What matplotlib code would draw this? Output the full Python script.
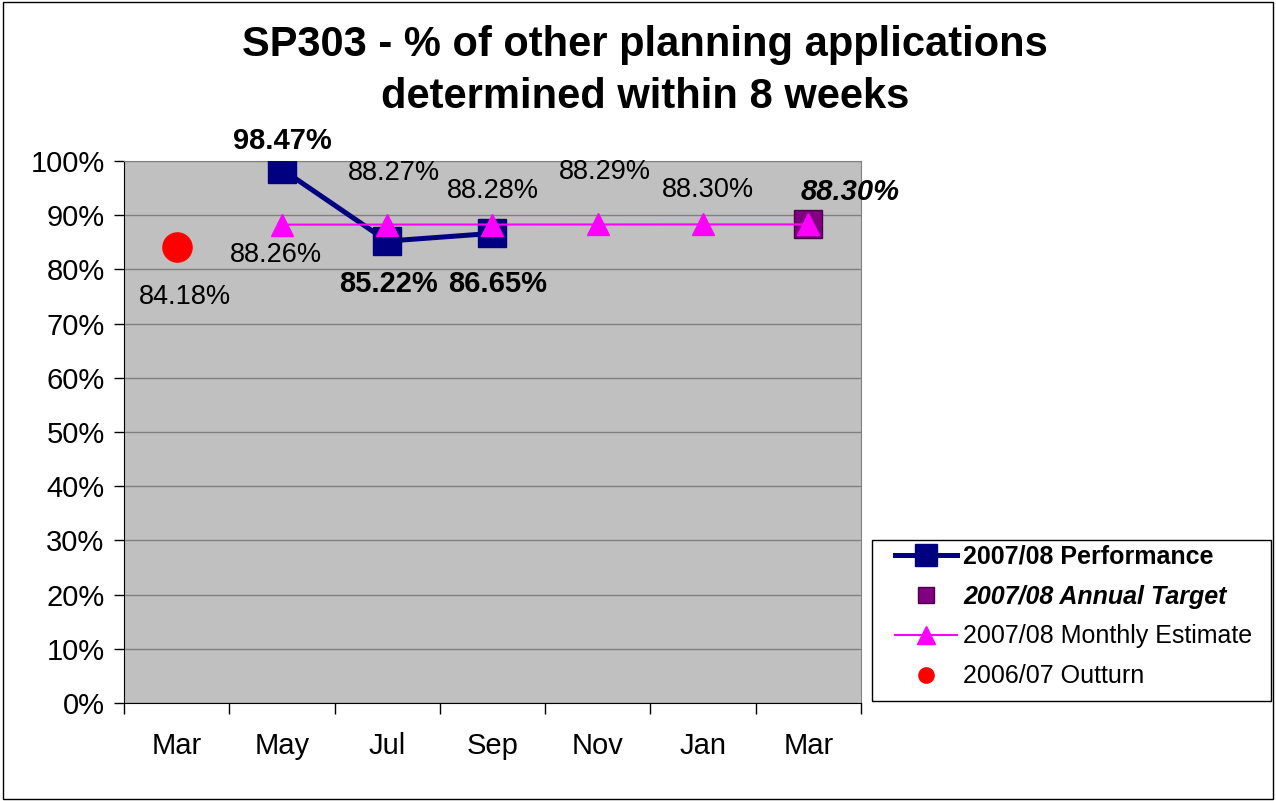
import numpy as np
import matplotlib.pyplot as plt
from matplotlib.lines import Line2D
from matplotlib.patches import Rectangle

plt.rcParams['font.family'] = ['Liberation Sans', 'DejaVu Sans']

months = ["Mar", "May", "Jul", "Sep", "Nov", "Jan", "Mar"]
perf_idx = [1, 2, 3]
perf_vals = [98.47, 85.22, 86.65]
est_idx = [1, 2, 3, 4, 5, 6]
est_vals = [88.26, 88.27, 88.28, 88.29, 88.30, 88.30]
target_idx = [6]
target_vals = [88.30]
outturn_idx = [0]
outturn_vals = [84.18]

# label offsets in pixels (dx, dy) for each series
perf_offsets = [(0, 28), (1, -43), (5, -51)]
est_offsets = [(-6, -30), (7, 52), (0, 34), (7, 52), (5, 34), None]
target_offsets = [(42, 32)]
outturn_offsets = [(8, -50)]

fig = plt.figure(figsize=(12.76, 8.01), dpi=100)
ax = fig.add_axes([124 / 1276, 1 - 703 / 801, (861 - 124) / 1276, (703 - 161) / 801])
ax.set_facecolor('#C0C0C0')

ax.plot(perf_idx, perf_vals, color='#000080', lw=3.6, marker='s', ms=20, zorder=3)
ax.plot(target_idx, target_vals, ls='none', marker='s', ms=20, color='#800080',
        mec='#4B004B', mew=1, zorder=4)
ax.plot(est_idx, est_vals, color='#FF00FF', lw=1.5, marker='^', ms=16, zorder=5)
ax.plot(outturn_idx, outturn_vals, ls='none', marker='o', ms=21, color='#FF0000', zorder=5)


def label(xs, ys, offs, size, **kw):
    for x, y, o in zip(xs, ys, offs):
        if o is None:
            continue
        ax.annotate(f"{y:.2f}%", (x, y), xytext=o, textcoords='offset pixels',
                    ha='center', va='center', fontsize=size, zorder=6, **kw)


label(perf_idx, perf_vals, perf_offsets, 21, fontweight='bold')
label(est_idx, est_vals, est_offsets, 19.5)
label(target_idx, target_vals, target_offsets, 21, fontweight='bold', fontstyle='italic',
      annotation_clip=False)
label(outturn_idx, outturn_vals, outturn_offsets, 19.5)

ax.set_xlim(-0.5, len(months) - 0.5)
ax.set_ylim(0, 100)
ax.set_yticks(np.arange(0, 101, 10))
ax.set_yticklabels([f"{v}%" for v in range(0, 101, 10)], fontsize=21)
ax.yaxis.grid(True, color='#808080', lw=1)
ax.set_axisbelow(True)
ax.tick_params(axis='y', length=7, width=1, pad=7, direction='out')

ax.set_xticks(np.arange(-0.5, len(months), 1))
ax.set_xticklabels([])
ax.set_xticks(np.arange(len(months)), minor=True)
ax.set_xticklabels(months, minor=True, fontsize=21)
ax.tick_params(axis='x', which='major', length=8, width=1, direction='out')
ax.tick_params(axis='x', which='minor', length=0, pad=21)

for s in ['top', 'right']:
    ax.spines[s].set_color('#808080')
ax.spines['left'].set_color('black')
ax.spines['bottom'].set_color('black')

fig.text(645 / 1276, 1 - 71 / 801,
         "SP303 - % of other planning applications\ndetermined within 8 weeks",
         ha='center', va='center', fontsize=30, fontweight='bold', linespacing=1.36)

handles = [
    Line2D([], [], color='#000080', lw=3.6, marker='s', ms=16),
    Line2D([], [], ls='none', marker='s', ms=11, color='#800080', mec='#4B004B'),
    Line2D([], [], color='#FF00FF', lw=1.5, marker='^', ms=13),
    Line2D([], [], ls='none', marker='o', ms=11, color='#FF0000'),
]
names = ["2007/08 Performance", "2007/08 Annual Target",
         "2007/08 Monthly Estimate", "2006/07 Outturn"]
leg = fig.legend(handles, names, loc='upper left',
                 bbox_to_anchor=(895 / 1276, 1 - 545 / 801), fontsize=18,
                 frameon=False, handlelength=2.48, handletextpad=0.24,
                 labelspacing=0.63, borderpad=0, borderaxespad=0)
leg.get_texts()[0].set_fontweight('bold')
leg.get_texts()[1].set_fontweight('bold')
leg.get_texts()[1].set_fontstyle('italic')

# legend frame drawn by hand
fig.patches.append(Rectangle((872 / 1276, 1 - 701 / 801), (1271 - 872) / 1276, (701 - 540) / 801,
                             transform=fig.transFigure, fill=False, edgecolor='black', lw=1))
# outer chart border
fig.patches.append(Rectangle((0.002, 0.002), 0.996, 0.996, transform=fig.transFigure,
                             fill=False, edgecolor='black', lw=1))

fig.savefig('out.png', dpi=100)
